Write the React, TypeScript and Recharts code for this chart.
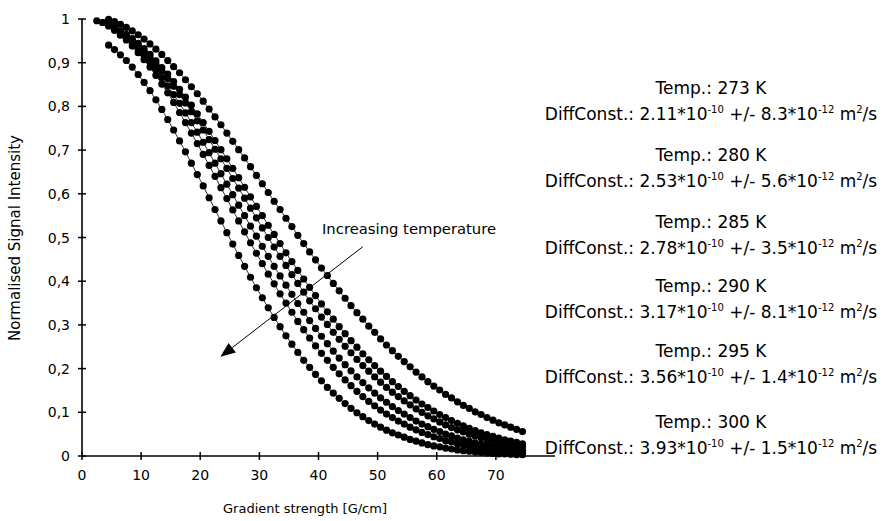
import { ScatterChart, Scatter, XAxis, YAxis, ReferenceLine } from "recharts"

// gradient strengths [G/cm], shared by all six runs
const gradient = [
  2.5, 3.5, 4.5, 5.5, 6.5, 7.5, 8.5, 9.5, 10.5, 11.5, 12.5, 13.5, 14.5, 15.5, 16.5, 17.5, 18.5, 19.5,
  20.5, 21.5, 22.5, 23.5, 24.5, 25.5, 26.5, 27.5, 28.5, 29.5, 30.5, 31.5, 32.5, 33.5, 34.5, 35.5, 36.5,
  37.5, 38.5, 39.5, 40.5, 41.5, 42.5, 43.5, 44.5, 45.5, 46.5, 47.5, 48.5, 49.5, 50.5, 51.5, 52.5, 53.5,
  54.5, 55.5, 56.5, 57.5, 58.5, 59.5, 60.5, 61.5, 62.5, 63.5, 64.5, 65.5, 66.5, 67.5, 68.5, 69.5, 70.5,
  71.5, 72.5, 73.5, 74.5,
]

// normalised intensities, null where a run has no point
const s273 = [
  null, null,
  0.999, 0.994, 0.988, 0.981, 0.973, 0.964, 0.954, 0.943, 0.931, 0.919,
  0.905, 0.891, 0.877, 0.861, 0.845, 0.829, 0.812, 0.794, 0.776, 0.758,
  0.739, 0.72, 0.701, 0.682, 0.662, 0.642, 0.623, 0.603, 0.583, 0.564,
  0.544, 0.525, 0.505, 0.486, 0.467, 0.449, 0.43, 0.413, 0.395, 0.378,
  0.361, 0.344, 0.328, 0.313, 0.297, 0.283, 0.268, 0.254, 0.241, 0.228,
  0.216, 0.204, 0.192, 0.181, 0.17, 0.16, 0.151, 0.141, 0.133, 0.124,
  0.116, 0.109, 0.101, 0.095, 0.088, 0.082, 0.076, 0.071, 0.066, 0.061, 0.056,
]
const s280 = [
  null,
  0.992, 0.987, 0.981, 0.973, 0.965, 0.955, 0.944, 0.932, 0.919, 0.904,
  0.889, 0.874, 0.857, 0.839, 0.821, 0.803, 0.783, 0.763, 0.743, 0.722,
  0.701, 0.68, 0.658, 0.637, 0.615, 0.593, 0.571, 0.55, 0.528, 0.507,
  0.486, 0.465, 0.445, 0.425, 0.405, 0.386, 0.367, 0.348, 0.33, 0.313,
  0.296, 0.28, 0.264, 0.249, 0.234, 0.22, 0.207, 0.194, 0.182, 0.17,
  0.159, 0.148, 0.138, 0.128, 0.119, 0.111, 0.103, 0.095, 0.088, 0.081,
  0.075, 0.069, 0.063, 0.058, 0.053, 0.049, 0.045, 0.041, 0.037, 0.034, 0.031, 0.028,
]
const s285 = [
  0.996, 0.992, 0.986, 0.979, 0.971, 0.962, 0.951, 0.939, 0.926, 0.912,
  0.897, 0.881, 0.864, 0.846, 0.827, 0.808, 0.788, 0.767, 0.746, 0.724,
  0.702, 0.68, 0.658, 0.635, 0.613, 0.59, 0.567, 0.545, 0.522, 0.5,
  0.478, 0.457, 0.436, 0.415, 0.395, 0.375, 0.355, 0.337, 0.318, 0.301,
  0.283, 0.267, 0.251, 0.236, 0.221, 0.207, 0.194, 0.181, 0.169, 0.157,
  0.146, 0.136, 0.126, 0.117, 0.108, 0.1, 0.092, 0.085, 0.078, 0.071,
  0.065, 0.06, 0.055, 0.05, 0.046, 0.042, 0.038, 0.034, 0.031, 0.028, 0.026, 0.023, 0.021,
]
const s290 = [
  null, null,
  0.984, 0.976, 0.967, 0.957, 0.945, 0.931, 0.917, 0.901, 0.884, 0.866,
  0.847, 0.827, 0.807, 0.785, 0.763, 0.741, 0.718, 0.694, 0.67, 0.646,
  0.622, 0.598, 0.574, 0.55, 0.526, 0.503, 0.48, 0.457, 0.434, 0.412,
  0.391, 0.37, 0.349, 0.329, 0.31, 0.292, 0.274, 0.257, 0.24, 0.224,
  0.209, 0.195, 0.181, 0.168, 0.156, 0.144, 0.133, 0.123, 0.113, 0.104,
  0.096, 0.088, 0.08, 0.073, 0.067, 0.061, 0.056, 0.05, 0.046, 0.041,
  0.037, 0.034, 0.03, 0.027, 0.025, 0.022, 0.02, 0.018, 0.016, 0.014, 0.013,
]
const s295 = [
  null, null, null,
  0.974, 0.963, 0.952, 0.938, 0.923, 0.907, 0.89, 0.871, 0.851, 0.831,
  0.809, 0.786, 0.763, 0.739, 0.715, 0.69, 0.665, 0.64, 0.614, 0.589,
  0.563, 0.538, 0.513, 0.488, 0.464, 0.44, 0.416, 0.394, 0.371, 0.35,
  0.329, 0.308, 0.289, 0.27, 0.252, 0.235, 0.219, 0.203, 0.188, 0.174,
  0.161, 0.148, 0.136, 0.125, 0.115, 0.105, 0.096, 0.088, 0.08, 0.073,
  0.066, 0.06, 0.054, 0.049, 0.044, 0.04, 0.035, 0.032, 0.028, 0.025,
  0.023, 0.02, 0.018, 0.016, 0.014, 0.012, 0.011, 0.01, 0.009, 0.007,
]
const s300 = [
  null, null,
  0.94, 0.93, 0.918, 0.905, 0.89, 0.873, 0.855, 0.836, 0.815, 0.793,
  0.77, 0.746, 0.721, 0.696, 0.67, 0.644, 0.618, 0.591, 0.564, 0.538,
  0.511, 0.485, 0.459, 0.434, 0.409, 0.385, 0.362, 0.339, 0.317, 0.296,
  0.275, 0.256, 0.237, 0.219, 0.203, 0.187, 0.172, 0.157, 0.144, 0.132,
  0.12, 0.109, 0.099, 0.09, 0.081, 0.073, 0.066, 0.059, 0.053, 0.048,
  0.043, 0.038, 0.034, 0.03, 0.026, 0.023, 0.021, 0.018, 0.016, 0.014,
  0.012, 0.011, 0.009, 0.008, 0.007, 0.006, 0.005, 0.005, 0.004, 0.003, 0.003,
]

const temps = [273, 280, 285, 290, 295, 300]
const diffConst = ["2.11", "2.53", "2.78", "3.17", "3.56", "3.93"]
const diffErr = ["8.3", "5.6", "3.5", "8.1", "1.4", "1.5"]

const xTicks = [0, 10, 20, 30, 40, 50, 60, 70]
const yTicks = [0, 0.1, 0.2, 0.3, 0.4, 0.5, 0.6, 0.7, 0.8, 0.9, 1]

// arrow annotation, in data units
const arrowFrom = { x: 47.5, y: 0.479 }
const arrowTo = { x: 23.4, y: 0.227 }

const runs = [s273, s280, s285, s290, s295, s300]
const toPoints = (ys: (number | null)[]) =>
  gradient.map((g, i) => ({ x: g, y: ys[i] })).filter((p) => p.y != null)

// vertical position of each text block (px)
const blockTops = [77, 144, 211, 275, 340, 411]

const FONT = "'DejaVu Sans', Verdana, sans-serif"

function Dot(props: any) {
  return <circle cx={props.cx} cy={props.cy} r={3.6} fill="#000" />
}

function YTick({ x, y, payload }: any) {
  const v = payload.value
  const label = v === 0 || v === 1 ? String(v) : v.toFixed(1).replace(".", ",")
  return (
    <g>
      <line x1={x - 4} x2={x + 4} y1={y} y2={y} stroke="#000" strokeWidth={1.5} />
      <text x={x - 12} y={y} dy="0.36em" textAnchor="end" fontSize={14} fontFamily={FONT} fill="#000">
        {label}
      </text>
    </g>
  )
}

function XTick({ x, y, payload }: any) {
  return (
    <g>
      <line x1={x} x2={x} y1={y - 4} y2={y + 4} stroke="#000" strokeWidth={1.5} />
      <text x={x} y={y + 24} textAnchor="middle" fontSize={14} fontFamily={FONT} fill="#000">
        {payload.value}
      </text>
    </g>
  )
}

function Arrow(props: any) {
  const { x1, y1, x2, y2 } = props
  const a = Math.atan2(y2 - y1, x2 - x1)
  const len = 15
  const w = 6
  const bx = x2 - len * Math.cos(a)
  const by = y2 - len * Math.sin(a)
  const px = -Math.sin(a) * w
  const py = Math.cos(a) * w
  return (
    <g>
      <line x1={x1} y1={y1} x2={bx} y2={by} stroke="#000" strokeWidth={1} />
      <polygon points={`${x2},${y2} ${bx + px},${by + py} ${bx - px},${by - py}`} fill="#000" />
    </g>
  )
}

const supStyle = { fontSize: 10 }

export default function App() {
  return (
    <div style={{ position: "absolute", left: 0, top: 0, width: 889, height: 521, background: "#fff", fontFamily: FONT, color: "#000" }}>
      <ScatterChart width={889} height={521} margin={{ top: 19, right: 334, bottom: 25, left: 22 }}>
        <XAxis
          type="number"
          dataKey="x"
          domain={[0, 80]}
          ticks={xTicks}
          tickSize={0}
          tickMargin={0}
          height={40}
          tick={<XTick />}
          axisLine={{ stroke: "#000", strokeWidth: 1.6 }}
        />
        <YAxis
          type="number"
          dataKey="y"
          domain={[0, 1]}
          ticks={yTicks}
          tickSize={0}
          tickMargin={0}
          width={60}
          tick={<YTick />}
          axisLine={{ stroke: "#000", strokeWidth: 1.6 }}
        />
        {runs.map((r, i) => (
          <Scatter
            key={temps[i]}
            name={`${temps[i]} K`}
            data={toPoints(r)}
            fill="#000"
            line={{ stroke: "#000", strokeWidth: 0.8 }}
            shape={<Dot />}
            isAnimationActive={false}
          />
        ))}
        <ReferenceLine segment={[arrowFrom, arrowTo]} shape={Arrow} />
      </ScatterChart>

      <div
        style={{
          position: "absolute",
          left: 15,
          top: 238,
          transform: "translate(-50%, -50%) rotate(-90deg)",
          whiteSpace: "nowrap",
          fontSize: 15,
        }}
      >
        Normalised Signal Intensity
      </div>
      <div style={{ position: "absolute", left: 305, top: 508, transform: "translate(-50%, -50%)", whiteSpace: "nowrap", fontSize: 13 }}>
        Gradient strength [G/cm]
      </div>
      <div style={{ position: "absolute", left: 322, top: 228, transform: "translateY(-50%)", whiteSpace: "nowrap", fontSize: 14.8 }}>
        Increasing temperature
      </div>

      {temps.map((t, i) => (
        <div
          key={t}
          style={{
            position: "absolute",
            left: 531,
            width: 360,
            top: blockTops[i],
            textAlign: "center",
            fontSize: 17,
            lineHeight: "22px",
            whiteSpace: "nowrap",
          }}
        >
          <div>Temp.: {t} K</div>
          <div>
            DiffConst.: {diffConst[i]}*10<sup style={supStyle}>-10</sup> +/- {diffErr[i]}*10
            <sup style={supStyle}>-12</sup> m<sup style={supStyle}>2</sup>/s
          </div>
        </div>
      ))}
    </div>
  )
}
